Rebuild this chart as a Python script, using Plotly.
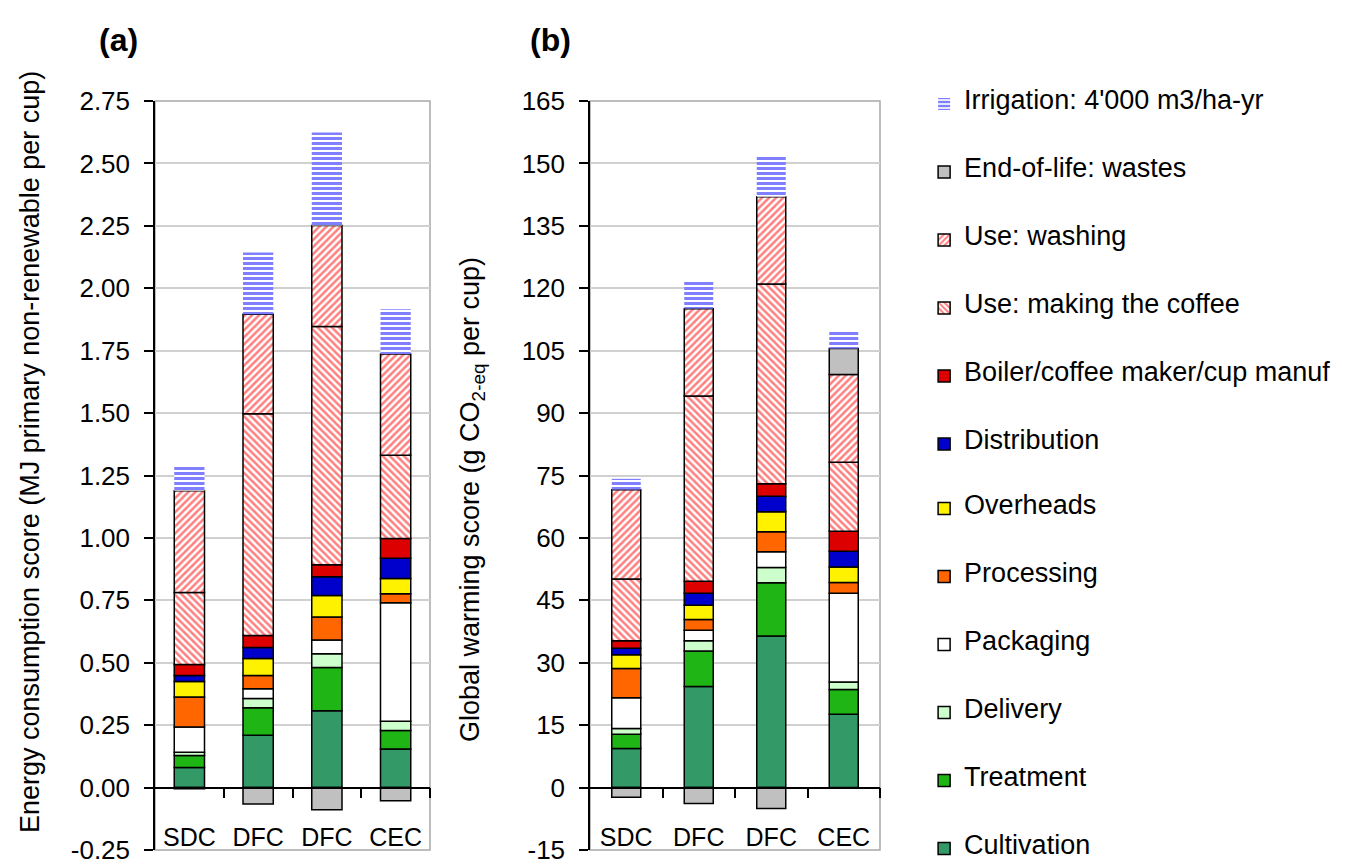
import plotly.graph_objects as go

# ---------------- data ----------------
categories = ["SDC", "DFC", "DFC", "CEC"]
series_names = [
    "Cultivation", "Treatment", "Delivery", "Packaging", "Processing", "Overheads",
    "Distribution", "Boiler/coffee maker/cup manuf", "Use: making the coffee",
    "Use: washing", "End-of-life: wastes", "Irrigation: 4'000 m3/ha-yr",
]

# panel (a): MJ primary non-renewable per cup
cultivation_a  = [0.080, 0.210, 0.308, 0.155]
treatment_a    = [0.049, 0.110, 0.173, 0.074]
delivery_a     = [0.013, 0.037, 0.055, 0.037]
packaging_a    = [0.101, 0.039, 0.055, 0.474]
processing_a   = [0.120, 0.053, 0.092, 0.036]
overheads_a    = [0.062, 0.068, 0.086, 0.061]
distribution_a = [0.024, 0.044, 0.075, 0.082]
boiler_a       = [0.044, 0.048, 0.049, 0.079]
making_a       = [0.288, 0.888, 0.954, 0.333]
washing_a      = [0.408, 0.399, 0.404, 0.406]
endoflife_a    = [-0.005, -0.066, -0.089, -0.053]
irrigation_a   = [0.096, 0.247, 0.373, 0.179]

# panel (b): g CO2-eq per cup
cultivation_b  = [9.4, 24.3, 36.4, 17.6]
treatment_b    = [3.4, 8.5, 12.8, 6.0]
delivery_b     = [1.4, 2.5, 3.7, 1.8]
packaging_b    = [7.4, 2.5, 3.8, 21.3]
processing_b   = [7.0, 2.6, 4.8, 2.6]
overheads_b    = [3.3, 3.4, 4.8, 3.7]
distribution_b = [1.6, 2.9, 3.7, 3.8]
boiler_b       = [1.8, 2.9, 3.0, 4.8]
making_b       = [14.8, 44.5, 48.0, 16.6]
washing_b      = [21.5, 21.0, 21.0, 21.1]
endoflife_b    = [-2.3, -3.8, -5.0, 6.2]
irrigation_b   = [2.6, 6.4, 9.7, 4.4]

# y tick labels
yticks_a = [-0.25, 0.0, 0.25, 0.5, 0.75, 1.0, 1.25, 1.5, 1.75, 2.0, 2.25, 2.5, 2.75]
yticktext_a = ["-0.25", "0.00", "0.25", "0.50", "0.75", "1.00", "1.25", "1.50",
               "1.75", "2.00", "2.25", "2.50", "2.75"]
yticks_b = [-15, 0, 15, 30, 45, 60, 75, 90, 105, 120, 135, 150, 165]
yticktext_b = ["-15", "0", "15", "30", "45", "60", "75", "90", "105", "120", "135", "150", "165"]

values_a = [cultivation_a, treatment_a, delivery_a, packaging_a, processing_a, overheads_a,
            distribution_a, boiler_a, making_a, washing_a, endoflife_a, irrigation_a]
values_b = [cultivation_b, treatment_b, delivery_b, packaging_b, processing_b, overheads_b,
            distribution_b, boiler_b, making_b, washing_b, endoflife_b, irrigation_b]

# ---------------- styles ----------------
FONT = "Liberation Sans, Arial, sans-serif"
styles = [
    dict(color="#339966"),
    dict(color="#1FB514"),
    dict(color="#CCFFCC"),
    dict(color="#FFFFFF"),
    dict(color="#FF6600"),
    dict(color="#FFF200"),
    dict(color="#0000CC"),
    dict(color="#DD0000"),
    dict(color="#FFFFFF", pattern=dict(shape="\\", fgcolor="#FF0000", bgcolor="#FFFFFF", size=5, solidity=0.5)),
    dict(color="#FFFFFF", pattern=dict(shape="/", fgcolor="#FF0000", bgcolor="#FFFFFF", size=5, solidity=0.5)),
    dict(color="#C0C0C0"),
    dict(color="#FFFFFF", pattern=dict(shape="-", fgcolor="#0000FF", bgcolor="#FFFFFF", size=5, solidity=0.6)),
]

W, H = 1355, 865
xpos = list(range(len(categories)))
n = len(series_names)

fig = go.Figure()

def add_panel(values, xa, ya, width, showlegend):
    for i, (name, vals) in enumerate(zip(series_names, values)):
        st = styles[i]
        marker = dict(color=st["color"],
                      line=dict(color="#000000", width=0 if i == n - 1 else 1.5))
        if "pattern" in st:
            marker["pattern"] = st["pattern"]
        fig.add_trace(go.Bar(
            x=xpos, y=vals, marker=marker, width=width,
            name='<span style="font-size:27px">' + name + '</span>',
            xaxis=xa, yaxis=ya, legendgroup=name, showlegend=showlegend,
            legendrank=n - i,
            legend="legend" if i >= 6 else "legend2",
        ))

add_panel(values_a, "x", "y", 0.44, True)
add_panel(values_b, "x2", "y2", 0.40, False)

# invisible helper traces so overlay axes (zero line ticks, category labels) get drawn
for xa, ya in [("x3", "y"), ("x4", "y"), ("x5", "y2"), ("x6", "y2")]:
    fig.add_trace(go.Scatter(x=xpos, y=[None] * len(xpos), xaxis=xa, yaxis=ya,
                             mode="markers", showlegend=False, hoverinfo="skip"))

# geometry (pixels -> paper)
ytop, ybot = 101, 850
ydom = [1 - ybot / H, 1 - ytop / H]
xdom_a = [155 / W, 430 / W]
xdom_b = [590 / W, 880 / W]
zero_pos = ydom[0] + (1 / 12) * (ydom[1] - ydom[0])
label_pos = 1 - 820 / H

common_y = dict(
    showline=True, linecolor="#000000", linewidth=1.5,
    ticks="outside", ticklen=9, tickcolor="#000000", tickwidth=1.5,
    showgrid=True, gridcolor="#D0D0D0", gridwidth=1.5,
    zeroline=False, domain=ydom, ticklabeloverflow="allow",
    tickfont=dict(family=FONT, size=26, color="#000000"),
    automargin=False, ticklabelstandoff=9,
)
fig.update_layout(
    yaxis=dict(range=[-0.25, 2.75], tickvals=yticks_a, ticktext=yticktext_a, **common_y),
    yaxis2=dict(range=[-15, 165], tickvals=yticks_b, ticktext=yticktext_b,
                anchor="x2", **common_y),
)

def xaxes(dom, main, zero_name, lab_name, yname):
    rng = [-0.5, 3.5]
    ov = main.replace("axis", "")
    return {
        main: dict(domain=dom, range=rng, showticklabels=False, showline=False,
                   showgrid=False, zeroline=False, ticks="", anchor=yname),
        zero_name: dict(domain=dom, range=rng, overlaying=ov,
                        anchor="free", position=zero_pos, showline=True,
                        linecolor="#000000", linewidth=1.5, ticks="outside", ticklen=10,
                        tickcolor="#000000", tickwidth=1.5, tickvals=[0.5, 1.5, 2.5, 3.5],
                        showticklabels=False, showgrid=False, zeroline=False),
        lab_name: dict(domain=dom, range=rng, overlaying=ov,
                       anchor="free", position=label_pos, showline=False, ticks="",
                       tickvals=xpos, ticktext=categories, showgrid=False, zeroline=False,
                       tickfont=dict(family=FONT, size=25, color="#000000")),
    }

fig.update_layout(**xaxes(xdom_a, "xaxis", "xaxis3", "xaxis4", "y"))
fig.update_layout(**xaxes(xdom_b, "xaxis2", "xaxis5", "xaxis6", "y2"))

# plot-area borders (grey frame)
for xr, yr in [("x domain", "y domain"), ("x2 domain", "y2 domain")]:
    fig.add_shape(type="rect", xref=xr, yref=yr, x0=0, x1=1, y0=0, y1=1,
                  line=dict(color="#A8A8A8", width=1.5), layer="below")

ann_common = dict(xref="paper", yref="paper", showarrow=False,
                  xanchor="center", yanchor="middle")
annotations = [
    dict(text="<b>(a)</b>", x=118 / W, y=1 - 40 / H,
         font=dict(family=FONT, size=32, color="#000000"), **ann_common),
    dict(text="<b>(b)</b>", x=550 / W, y=1 - 40 / H,
         font=dict(family=FONT, size=32, color="#000000"), **ann_common),
    dict(text="Energy consumption score (MJ primary non-renewable per cup)",
         x=30 / W, y=1 - 452 / H, textangle=-90,
         font=dict(family=FONT, size=27, color="#000000"), **ann_common),
    dict(text="Global warming score (g CO<sub>2-eq</sub> per cup)",
         x=472 / W, y=1 - 500 / H, textangle=-90,
         font=dict(family=FONT, size=27, color="#000000"), **ann_common),
]

legend_common = dict(x=0.682, xanchor="left",
                     traceorder="grouped", tracegroupgap=46.8,
                     font=dict(family=FONT, size=14, color="#000000"),
                     bgcolor="rgba(0,0,0,0)")

fig.update_layout(
    width=W, height=H, barmode="relative",
    margin=dict(l=0, r=0, t=0, b=0),
    paper_bgcolor="#FFFFFF", plot_bgcolor="#FFFFFF",
    annotations=annotations,
    showlegend=True,
    legend=dict(y=1 - 88.4 / H, yanchor="top", **legend_common),
    legend2=dict(y=0, yanchor="bottom", **legend_common),
)

fig.write_html(
    "out.html",
    config={"displayModeBar": False},
    post_script="document.body.style.margin='0';document.body.style.overflow='hidden';",
)
